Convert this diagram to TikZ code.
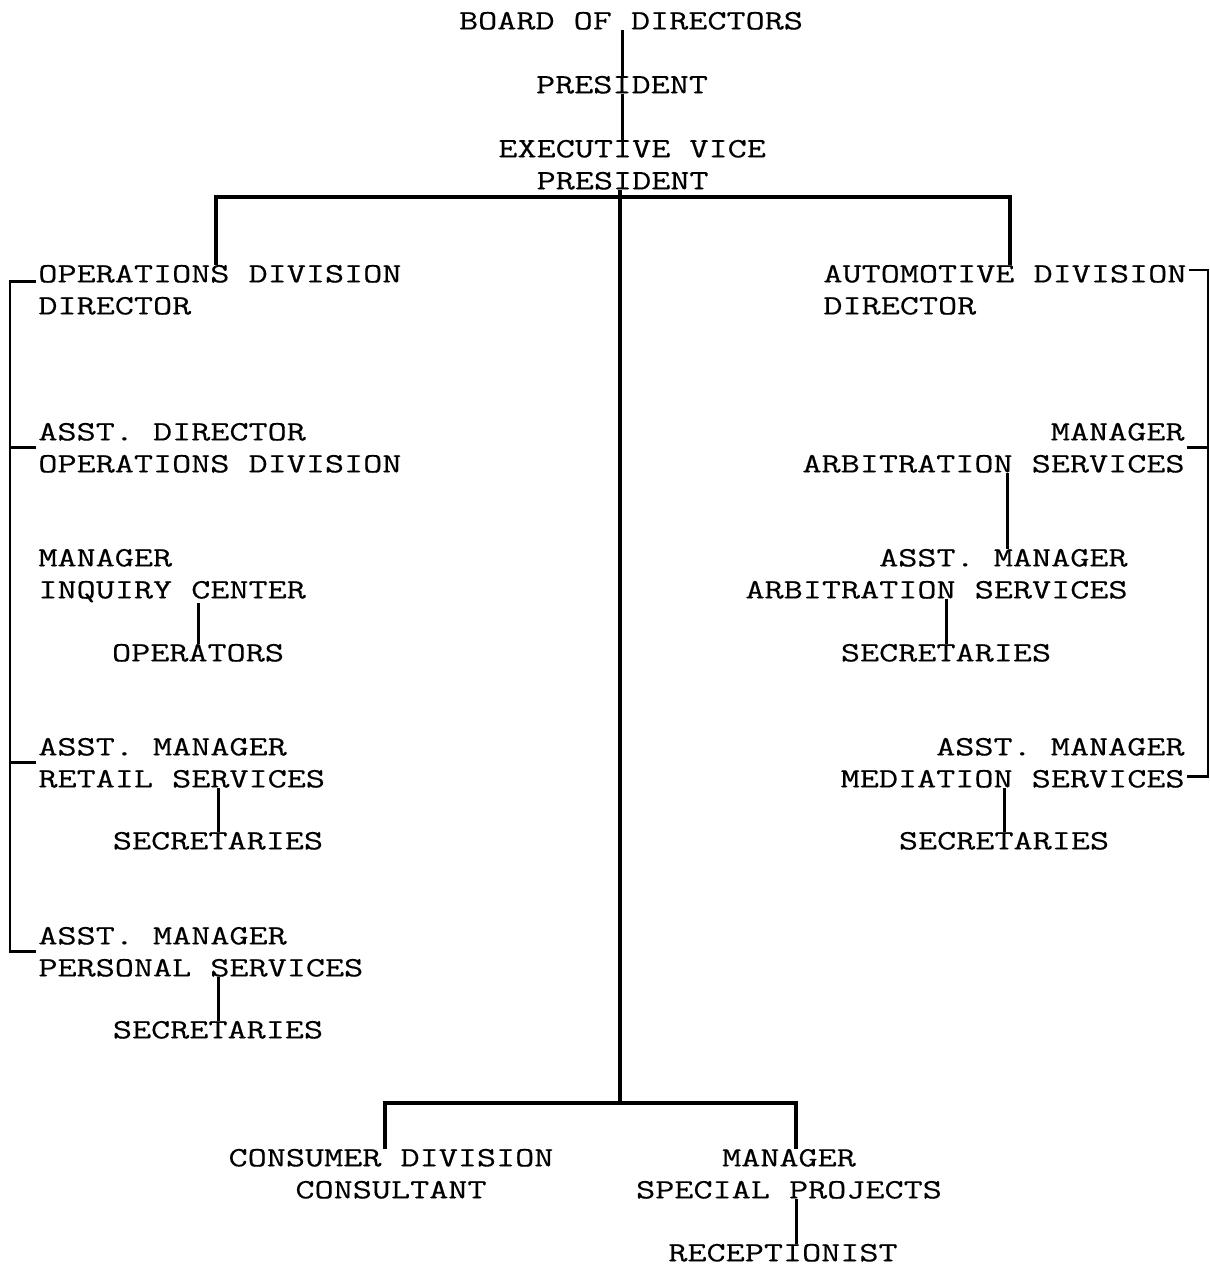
\documentclass[tikz,border=0pt]{standalone}
\usepackage{fontspec}
\newfontfamily\typewriter[FakeStretch=1.325,FakeBold=0.4]{Latin Modern Mono}
\tikzset{
  post/.style={inner sep=0pt, font=\typewriter\fontsize{14pt}{16pt}\selectfont},
  leftpost/.style={post, align=left, anchor=north west},
  rightpost/.style={post, align=right, anchor=north east},
  midpost/.style={post, align=center, anchor=north},
  bus/.style={line width=2pt},
  link/.style={line width=1.5pt},
  rail/.style={line width=1.4pt}
}

\begin{document}
\begin{tikzpicture}[x=0.5pt,y=-0.5pt]
\useasboundingbox (0,0) rectangle (1210,1265);
% top of the chart
\node[midpost] (bod) at (631,11.5) {BOARD OF DIRECTORS};
\node[midpost] (pres) at (622,75.5) {PRESIDENT};
\node[leftpost] (evp) at (498,139.5) {EXECUTIVE VICE\\\phantom{XX}PRESIDENT};
% operations division
\node[leftpost] (ops) at (38,264.5) {OPERATIONS DIVISION\\DIRECTOR};
\node[leftpost] (asstdir) at (38,422.5) {ASST. DIRECTOR\\OPERATIONS DIVISION};
\node[leftpost] (inquiry) at (38,548.5) {MANAGER\\INQUIRY CENTER};
\node[midpost] (operators) at (198,643.5) {OPERATORS};
\node[leftpost] (retail) at (38,737.5) {ASST. MANAGER\\RETAIL SERVICES};
\node[midpost] (retailsec) at (218,831.5) {SECRETARIES};
\node[leftpost] (personal) at (38,926.5) {ASST. MANAGER\\PERSONAL SERVICES};
\node[midpost] (personalsec) at (218,1020.5) {SECRETARIES};
% automotive division
\node[leftpost] (auto) at (823,264.5) {AUTOMOTIVE DIVISION\\DIRECTOR};
\node[rightpost] (arbmgr) at (1185,422.5) {MANAGER\\ARBITRATION SERVICES};
\node[rightpost] (arbasst) at (1128,548.5) {ASST. MANAGER\\ARBITRATION SERVICES};
\node[midpost] (arbsec) at (946,643.5) {SECRETARIES};
\node[rightpost] (medasst) at (1185,737.5) {ASST. MANAGER\\MEDIATION SERVICES};
\node[midpost] (medsec) at (1004,831.5) {SECRETARIES};
% consumer division
\node[midpost] (consumer) at (391,1148.5) {CONSUMER DIVISION\\CONSULTANT};
\node[midpost] (special) at (789,1148.5) {MANAGER\\SPECIAL PROJECTS};
\node[midpost] (recep) at (783,1243.5) {RECEPTIONIST};
% junctions
\coordinate (hub) at (620,197);
\coordinate (foot) at (620,1103);
\coordinate (lrail) at (10,0);
\coordinate (rrail) at (1208,0);
% trunk and buses
\draw[link] (pres.north) -- (pres.north |- bod.south);
\draw[link] (pres.south) -- (pres.south |- evp.north);
\draw[bus] ([xshift=-2pt]ops.north) |- (hub) -| ([xshift=2.5pt]auto.north);
\draw[bus] (evp.south -| hub) -- (foot);
\draw[bus] ([xshift=-3pt]consumer.north) |- (foot) -| ([xshift=3.5pt]special.north);
% left rail
\draw[rail] ([xshift=-1pt,yshift=4pt]ops.west) -| (lrail |- personal.west) -- ([xshift=-1pt]personal.west);
\draw[rail] ([xshift=-1pt]asstdir.west) -- (asstdir.west -| lrail);
\draw[rail] ([xshift=-1pt]retail.west) -- (retail.west -| lrail);
% right rail
\draw[rail] ([xshift=1pt,yshift=-2.75pt]auto.north east) -| ([yshift=-7pt]medasst.east -| rrail) -- ([xshift=1pt,yshift=-7pt]medasst.east);
\draw[rail] ([xshift=1pt]arbmgr.east) -- (arbmgr.east -| rrail);
% staff lines
\draw[link] (operators.north) -- (operators.north |- inquiry.south);
\draw[link] (retailsec.north) -- (retailsec.north |- retail.south);
\draw[link] (personalsec.north) -- (personalsec.north |- personal.south);
\draw[link] ([xshift=7pt]arbmgr.south) -- ([xshift=7pt]arbmgr.south |- arbasst.north);
\draw[link] (arbsec.north) -- (arbsec.north |- arbasst.south);
\draw[link] (medsec.north) -- (medsec.north |- medasst.south);
\draw[link] ([xshift=3.5pt]special.south) -- ([xshift=3.5pt]special.south |- recep.north);
\end{tikzpicture}
\end{document}
